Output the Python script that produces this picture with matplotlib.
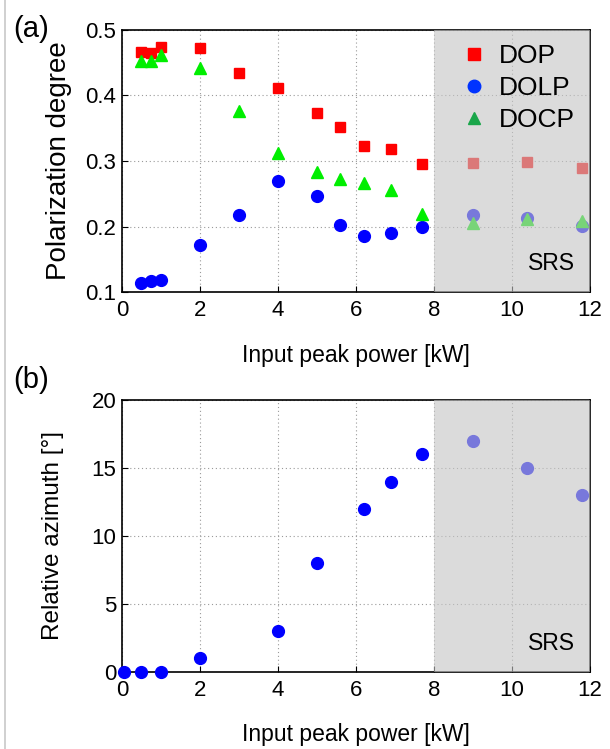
import matplotlib
matplotlib.use("Agg")
import matplotlib.pyplot as plt
from matplotlib.lines import Line2D
import numpy as np

plt.rcParams['font.family'] = ['Liberation Sans', 'DejaVu Sans']

# ---- data (a) ----
power_a = [0.5, 0.75, 1.0, 2.0, 3.0, 4.0, 5.0, 5.6, 6.2, 6.9, 7.7, 9.0, 10.4, 11.8]
dop = [0.466, 0.465, 0.474, 0.473, 0.435, 0.412, 0.374, 0.352, 0.323, 0.318, 0.295, 0.297, 0.298, 0.289]
dolp = [0.114, 0.117, 0.118, 0.172, 0.218, 0.270, 0.246, 0.202, 0.185, 0.190, 0.200, 0.218, 0.213, 0.201]
docp = [0.453, 0.452, 0.462, 0.442, 0.377, 0.313, 0.284, 0.273, 0.267, 0.256, 0.219, 0.206, 0.211, 0.208]
series_names = ["DOP", "DOLP", "DOCP"]

# ---- data (b) ----
power_b = [0.05, 0.5, 1.0, 2.0, 4.0, 5.0, 6.2, 6.9, 7.7, 9.0, 10.4, 11.8]
azimuth = [0, 0, 0, 1, 3, 8, 12, 14, 16, 17, 15, 13]

xticks = [0, 2, 4, 6, 8, 10, 12]
yticks_a = [0.1, 0.2, 0.3, 0.4, 0.5]
yticks_b = [0, 5, 10, 15, 20]
srs_start, srs_end = 8, 12

fig = plt.figure(figsize=(6.10, 7.49), dpi=100)
ax1 = fig.add_axes([0.200, 0.610, 0.767, 0.350])
ax2 = fig.add_axes([0.200, 0.103, 0.767, 0.363])

overlay_color = (197/255, 197/255, 197/255)
overlay_alpha = 0.61

def style(ax, srs_y):
    ax.tick_params(direction='in', length=4, width=0.8, labelsize=16)
    ax.tick_params(axis='x', pad=6)
    ax.tick_params(axis='y', pad=4)
    for s in ax.spines.values():
        s.set_linewidth(1.2)
        s.set_color('black')
    ax.grid(True, linestyle=(0, (1, 2.5)), color='#9a9a9a', linewidth=0.8)
    ax.set_axisbelow(True)
    ax.axvspan(srs_start, srs_end, facecolor=overlay_color, alpha=overlay_alpha,
               edgecolor='none', zorder=4)
    ax.text(0.968, srs_y, "SRS", transform=ax.transAxes, ha='right', va='bottom',
            fontsize=16.5, zorder=6)

# panel (a)
ax1.plot(power_a, dop, 's', color='#ff0000', markersize=7, zorder=3, clip_on=False)
ax1.plot(power_a, dolp, 'o', color='#0000ff', markersize=8.5, zorder=3, clip_on=False)
ax1.plot(power_a, docp, '^', color='#00ee00', markersize=8.5, zorder=3, clip_on=False)
ax1.set_xlim(0, 12)
ax1.set_ylim(0.1, 0.5)
ax1.set_xticks(xticks)
ax1.set_yticks(yticks_a)
ax1.set_yticklabels([f"{v:.1f}" for v in yticks_a])
style(ax1, 0.065)
ax1.set_ylabel("Polarization degree", fontsize=20, labelpad=10)
ax1.set_xlabel("Input peak power [kW]", fontsize=16.5, labelpad=16)

handles = [
    Line2D([], [], linestyle='none', marker='s', color='#ff0000', markersize=8),
    Line2D([], [], linestyle='none', marker='o', color='#0033ff', markersize=9),
    Line2D([], [], linestyle='none', marker='^', color='#1aa64a', markersize=9),
]
leg = ax1.legend(handles, series_names, loc='upper right', frameon=False,
                 fontsize=19, handlelength=1.0, handletextpad=0.45,
                 labelspacing=0.3, borderaxespad=0.15)
leg.set_zorder(7)

# panel (b)
ax2.plot(power_b, azimuth, 'o', color='#0000ff', markersize=8.5, zorder=3, clip_on=False)
ax2.set_xlim(0, 12)
ax2.set_ylim(0, 20)
ax2.set_xticks(xticks)
ax2.set_yticks(yticks_b)
style(ax2, 0.062)
ax2.set_ylabel("Relative azimuth [°]", fontsize=17.5, labelpad=20)
ax2.set_xlabel("Input peak power [kW]", fontsize=16.5, labelpad=16)

fig.text(0.022, 0.961, "(a)", fontsize=21, ha='left', va='center')
fig.text(0.022, 0.493, "(b)", fontsize=21, ha='left', va='center')

# left border line of the frame
fig.add_artist(Line2D([0.009, 0.009], [0, 1], transform=fig.transFigure,
                      color='#c8c8c8', linewidth=1.2))

fig.savefig("out.png", dpi=100)
